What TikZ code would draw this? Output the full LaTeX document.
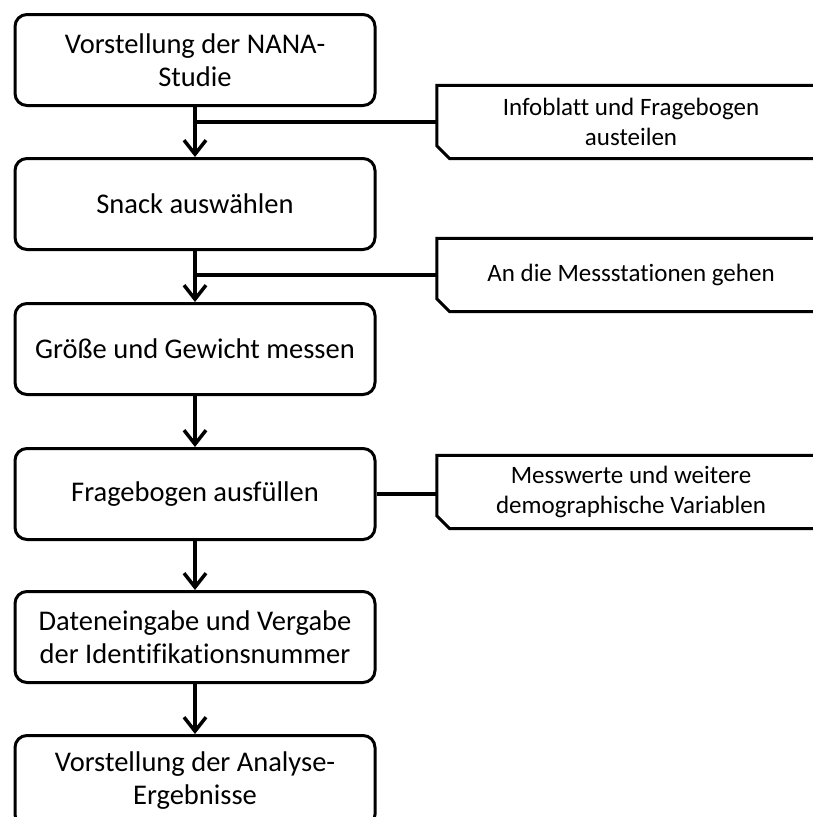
\documentclass[tikz,border=0pt]{standalone}
\usepackage{fontspec}
\setmainfont{Carlito}[Ligatures=NoCommon]
\usetikzlibrary{arrows.meta,calc}
\begin{document}
\begin{tikzpicture}[x=1pt,y=-1pt,
  mainbox/.style={draw, line width=3pt, rounded corners=12pt, minimum width=360pt, minimum height=91pt, align=center, font=\fontsize{28.5}{33}\selectfont, inner sep=0pt, anchor=north},
  sidebox/.style={minimum width=388pt, minimum height=73pt, align=center, font=\fontsize{25}{30}\selectfont, inner sep=0pt},
  sideframe/.style={line width=3pt},
  flow/.style={line width=3.5pt, -{Straight Barb[length=14pt,width=22pt]}},
  link/.style={line width=3.5pt}
]
\useasboundingbox (0,0) rectangle (813,817);
\clip (0,0) rectangle (813,817);

\node[mainbox] (b1) at (195,13) {Vorstellung der NANA-\\Studie};
\node[mainbox] (b2) at (195,157) {Snack auswählen};
\node[mainbox] (b3) at (195,302) {Größe und Gewicht messen};
\node[mainbox] (b4) at (195,447) {Fragebogen ausfüllen};
\node[mainbox] (b5) at (195,590) {Dateneingabe und Vergabe\\der Identifikationsnummer};
\node[mainbox] (b6) at (195,734) {Vorstellung der Analyse-\\Ergebnisse};

\node[sidebox] (s1) at (631,122) {Infoblatt und Fragebogen\\austeilen};
\node[sidebox] (s2) at (631,275) {An die Messstationen gehen};
\node[sidebox] (s3) at (631,492) {Messwerte und weitere\\demographische Variablen};

\foreach \s in {s1,s2,s3}{
  \draw[sideframe] (\s.north east) -- (\s.north west) -- ([yshift=13pt]\s.south west) -- ([xshift=13pt]\s.south west) -- (\s.south east) -- cycle;
}

\draw[flow] (b1.south) -- (b2.north);
\draw[flow] (b2.south) -- (b3.north);
\draw[flow] (b3.south) -- (b4.north);
\draw[flow] (b4.south) -- (b5.north);
\draw[flow] (b5.south) -- (b6.north);

\draw[link] (s1.west) -- (s1.west -| b1.south);
\draw[link] (s2.west) -- (s2.west -| b2.south);
\draw[link] (b4.east) -- (b4.east -| s3.west);
\end{tikzpicture}
\end{document}
